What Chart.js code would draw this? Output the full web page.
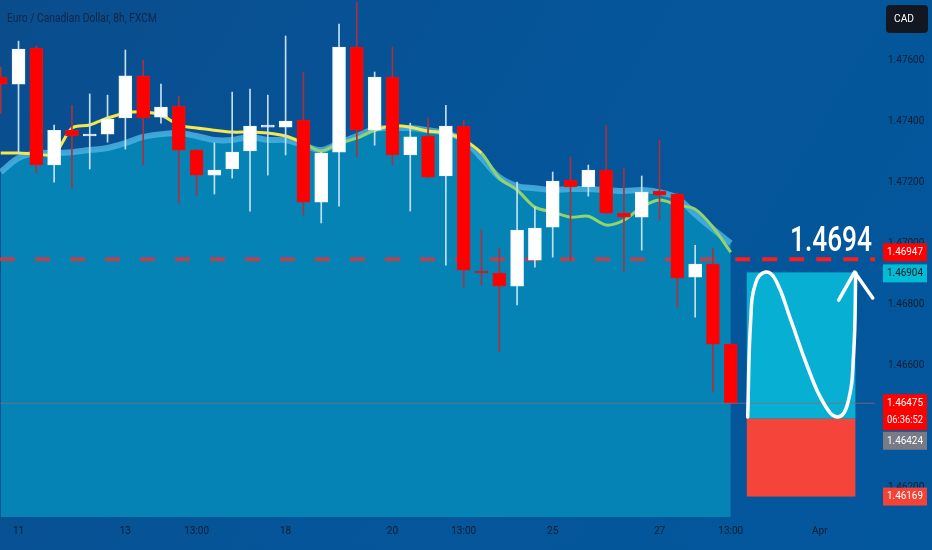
<!DOCTYPE html>
<html>
<head>
<meta charset="utf-8">
<title>Euro / Canadian Dollar, 8h, FXCM</title>
<script src="https://cdn.jsdelivr.net/npm/chart.js@4.4.1/dist/chart.umd.min.js"></script>
<style>
  html, body { margin: 0; padding: 0; background: #03569b; }
  #wrap { width: 932px; height: 550px; position: relative; }
</style>
</head>
<body>
<div id="wrap"><canvas id="chart"></canvas></div>
<script>
// EUR/CAD 8h candles
const opens  = [1.47544, 1.47521, 1.47639, 1.47256, 1.47370, 1.47351, 1.47357, 1.47410, 1.47548, 1.47413,
                1.47449, 1.47305, 1.47223, 1.47243, 1.47302, 1.47380, 1.47380, 1.47403, 1.47134, 1.47298,
                1.47643, 1.47370, 1.47544, 1.47289, 1.47351, 1.47220, 1.47384, 1.46908, 1.46902, 1.46859,
                1.46944, 1.47052, 1.47207, 1.47184, 1.47239, 1.47098, 1.47085, 1.47170, 1.47161, 1.46888,
                1.46931, 1.46669];
const highs  = [1.47577, 1.47662, 1.47646, 1.47387, 1.47452, 1.47489, 1.47485, 1.47633, 1.47600, 1.47521,
                1.47482, 1.47308, 1.47328, 1.47495, 1.47505, 1.47485, 1.47679, 1.47561, 1.47298, 1.47718,
                1.47790, 1.47561, 1.47643, 1.47393, 1.47410, 1.47452, 1.47403, 1.47043, 1.46984, 1.47200,
                1.47118, 1.47233, 1.47282, 1.47256, 1.47387, 1.47246, 1.47220, 1.47338, 1.47165, 1.46993,
                1.46984, 1.46672];
const lows   = [1.47426, 1.47295, 1.47229, 1.47200, 1.47180, 1.47243, 1.47331, 1.47308, 1.47256, 1.47393,
                1.47131, 1.47157, 1.47161, 1.47213, 1.47105, 1.47223, 1.47289, 1.47092, 1.47066, 1.47121,
                1.47282, 1.47321, 1.47256, 1.47105, 1.47213, 1.46928, 1.46856, 1.46862, 1.46643, 1.46797,
                1.46921, 1.46954, 1.46944, 1.47154, 1.47095, 1.46905, 1.46977, 1.47075, 1.46790, 1.46757,
                1.46511, 1.46475];
const closes = [1.47521, 1.47636, 1.47256, 1.47370, 1.47351, 1.47357, 1.47407, 1.47548, 1.47410, 1.47446,
                1.47305, 1.47223, 1.47239, 1.47298, 1.47384, 1.47382, 1.47400, 1.47134, 1.47295, 1.47643,
                1.47370, 1.47544, 1.47289, 1.47348, 1.47216, 1.47384, 1.46911, 1.46902, 1.46859, 1.47043,
                1.47049, 1.47203, 1.47184, 1.47239, 1.47098, 1.47085, 1.47167, 1.47157, 1.46885, 1.46931,
                1.46669, 1.46475];

// moving averages: the yellow/green line and the edge of the shaded band
const maFast = [1.47295, 1.47295, 1.47292, 1.47292, 1.47377, 1.47387, 1.47410, 1.47426, 1.47430, 1.47420,
                1.47387, 1.47377, 1.47370, 1.47364, 1.47364, 1.47361, 1.47351, 1.47328, 1.47302, 1.47328,
                1.47344, 1.47370, 1.47384, 1.47380, 1.47367, 1.47361, 1.47338, 1.47295, 1.47213, 1.47174,
                1.47118, 1.47102, 1.47085, 1.47088, 1.47059, 1.47075, 1.47118, 1.47141, 1.47125, 1.47111,
                1.47052, 1.46970];
const maSlow = [1.47233, 1.47279, 1.47295, 1.47295, 1.47298, 1.47305, 1.47312, 1.47328, 1.47348, 1.47357,
                1.47361, 1.47351, 1.47338, 1.47338, 1.47348, 1.47338, 1.47338, 1.47321, 1.47305, 1.47328,
                1.47351, 1.47374, 1.47377, 1.47377, 1.47370, 1.47361, 1.47338, 1.47279, 1.47216, 1.47187,
                1.47180, 1.47174, 1.47177, 1.47177, 1.47174, 1.47171, 1.47174, 1.47167, 1.47148, 1.47095,
                1.47046, 1.47000];

// axis labels
const tickIndex = [1, 7, 11, 16, 22, 26, 31, 37, 41, 46];
const tickText  = ['11', '13', '13:00', '18', '20', '13:00', '25', '27', '13:00', 'Apr'];
const priceTicks = [1.462, 1.464, 1.466, 1.468, 1.470, 1.472, 1.474, 1.476];

// drawings
const targetLine = 1.46947;
const targetNote = '1.4694';
const lastPrice = 1.46475;
const countdown = '06:36:52';
const posFrom = 41.9, posTo = 48.0;          // long position box (bar index)
const posEntry = 1.46424, posTarget = 1.46904, posStop = 1.46169;
const waveX = [41.95, 42.12, 42.40, 42.96, 43.52, 44.37, 45.32, 46.22, 47.00, 47.57, 47.90, 48.02];
const waveY = [1.46430, 1.46748, 1.46869, 1.46905, 1.46879, 1.46748, 1.46593, 1.46475, 1.46430, 1.46475, 1.46639, 1.46902];
const arrowX = [47.06, 47.95, 48.97];
const arrowY = [1.46813, 1.46905, 1.46820];

const xMin = -0.04, xMax = 49.1;
const yMin = 1.46102, yMax = 1.47797;

const family = 'Roboto, "DejaVu Sans", sans-serif';

const last = opens.length - 1;
const isUp = i => closes[i] >= opens[i];
const greenRuns = [[17, 20], [27, last]];
const isGreen = i => greenRuns.some(r => i >= r[0] && i < r[1] + 1);

const wickData = opens.map((o, i) => ({ x: i, y: [lows[i], highs[i]] }));
const bodyData = opens.map((o, i) => ({ x: i, y: [o, closes[i]] }));

// background, position boxes
const backdrop = {
  id: 'backdrop',
  beforeDraw(chart) {
    const ctx = chart.ctx;
    const g = ctx.createLinearGradient(0, 0, chart.width, chart.height);
    g.addColorStop(0, '#0a4d8d');
    g.addColorStop(0.5, '#05559a');
    g.addColorStop(1, '#03579c');
    ctx.save();
    ctx.fillStyle = g;
    ctx.fillRect(0, 0, chart.width, chart.height);
    ctx.restore();
  },
  beforeDatasetsDraw(chart) {
    const ctx = chart.ctx, x = chart.scales.x, y = chart.scales.y;
    const l = x.getPixelForValue(posFrom), r = x.getPixelForValue(posTo);
    const yT = y.getPixelForValue(posTarget), yE = y.getPixelForValue(posEntry), yS = y.getPixelForValue(posStop);
    ctx.save();
    ctx.fillStyle = '#07afd3';
    ctx.fillRect(l, yT, r - l, yE - yT);
    ctx.fillStyle = '#f5453a';
    ctx.fillRect(l, yE, r - l, yS - yE);
    ctx.restore();
  }
};

function squeezeText(ctx, text, x, y, width) {
  const w = ctx.measureText(text).width;
  ctx.save();
  ctx.translate(x, y);
  ctx.scale(width / w, 1);
  ctx.fillText(text, 0, 0);
  ctx.restore();
}

function priceBox(ctx, lines, cy, bg, fg) {
  const h = 18 * lines.length;
  ctx.fillStyle = bg;
  ctx.fillRect(883, cy - 9, 44, h);
  ctx.fillStyle = fg;
  ctx.font = '11px ' + family;
  ctx.textAlign = 'left';
  ctx.textBaseline = 'middle';
  lines.forEach((t, k) => squeezeText(ctx, t, 887, cy + k * 17, 36));
}

// title, currency badge, big target number, price tags
const overlay = {
  id: 'overlay',
  afterDraw(chart) {
    const ctx = chart.ctx, y = chart.scales.y;
    ctx.save();
    ctx.fillStyle = '#0f2744';
    ctx.font = '13px ' + family;
    ctx.textBaseline = 'middle';
    squeezeText(ctx, 'Euro / Canadian Dollar, 8h, FXCM', 7, 19, 150);

    ctx.fillStyle = '#131722';
    ctx.beginPath();
    ctx.roundRect(886, 5, 42, 28, 4);
    ctx.fill();
    ctx.fillStyle = '#ffffff';
    ctx.font = '11px ' + family;
    squeezeText(ctx, 'CAD', 894, 19, 20);

    ctx.fillStyle = '#ffffff';
    ctx.font = '500 35px ' + family;
    ctx.textBaseline = 'alphabetic';
    squeezeText(ctx, targetNote, 790, y.getPixelForValue(targetLine) - 8, 82);

    priceBox(ctx, [targetLine.toFixed(5)], y.getPixelForValue(targetLine) - 7, '#ff0000', '#ffffff');
    priceBox(ctx, [posTarget.toFixed(5)], y.getPixelForValue(posTarget) + 1, '#00bcd4', '#131722');
    priceBox(ctx, [lastPrice.toFixed(5), countdown], y.getPixelForValue(lastPrice), '#ff0000', '#ffffff');
    priceBox(ctx, [posEntry.toFixed(5)], y.getPixelForValue(posEntry) + 22, '#787b86', '#ffffff');
    priceBox(ctx, [posStop.toFixed(5)], y.getPixelForValue(posStop), '#f44336', '#ffffff');
    ctx.restore();
  }
};

const yellow = '#f4e84a', green = '#93d36c';

new Chart(document.getElementById('chart'), {
  type: 'bar',
  data: {
    datasets: [
      {
        type: 'line', label: 'MA slow',
        data: maSlow.map((v, i) => ({ x: i, y: v })),
        borderColor: 'rgba(74,178,224,0.85)', borderWidth: 6,
        backgroundColor: '#0683b5', fill: 'start',
        pointRadius: 0, tension: 0.35, order: 10
      },
      {
        type: 'line', label: 'MA fast',
        data: maFast.map((v, i) => ({ x: i, y: v })),
        borderColor: yellow, borderWidth: 3,
        segment: { borderColor: c => isGreen(c.p0DataIndex) ? green : yellow },
        pointRadius: 0, tension: 0.3, order: 9
      },
      {
        type: 'line', label: 'target (chart)',
        data: [{ x: xMin, y: targetLine }, { x: last, y: targetLine }],
        borderColor: 'rgba(196,62,72,0.9)', borderWidth: 4, borderDash: [15, 20],
        pointRadius: 0, order: 8
      },
      {
        type: 'bar', label: 'wicks', data: wickData,
        barThickness: 1, grouped: false,
        backgroundColor: c => isUp(c.dataIndex) ? '#c2e0f4' : '#a8323f',
        order: 7
      },
      {
        type: 'bar', label: 'bodies', data: bodyData,
        barThickness: 13, minBarLength: 2, grouped: false, borderSkipped: false,
        backgroundColor: c => isUp(c.dataIndex) ? '#ffffff' : '#ff0000',
        borderColor: c => isUp(c.dataIndex) ? '#eaf4fb' : '#d8141e',
        borderWidth: 1, order: 6
      },
      {
        type: 'line', label: 'last price',
        data: [{ x: xMin, y: lastPrice }, { x: xMax, y: lastPrice }],
        borderColor: 'rgba(140,105,120,0.75)', borderWidth: 1,
        pointRadius: 0, order: 3
      },
      {
        type: 'line', label: 'target (right)',
        data: [{ x: last + 0.25, y: targetLine }, { x: xMax, y: targetLine }],
        borderColor: '#ff1c1c', borderWidth: 4, borderDash: [15, 12],
        pointRadius: 0, order: 2
      },
      {
        type: 'line', label: 'wave',
        data: waveX.map((v, i) => ({ x: v, y: waveY[i] })),
        borderColor: '#ffffff', borderWidth: 3.5, borderCapStyle: 'round',
        pointRadius: 0, tension: 0.45, order: 1
      },
      {
        type: 'line', label: 'arrow',
        data: arrowX.map((v, i) => ({ x: v, y: arrowY[i] })),
        borderColor: '#ffffff', borderWidth: 3.5, borderCapStyle: 'round', borderJoinStyle: 'round',
        pointRadius: 0, tension: 0, order: 1
      }
    ]
  },
  options: {
    responsive: true,
    maintainAspectRatio: false,
    animation: false,
    layout: { padding: 0, autoPadding: false },
    plugins: { legend: { display: false }, tooltip: { enabled: false } },
    scales: {
      x: {
        type: 'linear', min: xMin, max: xMax, offset: false,
        grid: { display: false }, border: { display: false },
        afterBuildTicks: s => { s.ticks = tickIndex.map(v => ({ value: v })); },
        afterFit: s => { s.height = 33; s.paddingLeft = 0; s.paddingRight = 0; },
        ticks: {
          autoSkip: false, maxRotation: 0, padding: 0,
          color: '#0e1d2e', font: { family: family, size: 10 },
          callback: v => tickText[tickIndex.indexOf(v)]
        }
      },
      y: {
        position: 'right', min: yMin, max: yMax,
        grid: { display: false }, border: { display: false },
        afterBuildTicks: s => { s.ticks = priceTicks.map(v => ({ value: v })); },
        afterFit: s => { s.width = 57; s.paddingTop = 0; s.paddingBottom = 0; },
        ticks: {
          padding: 5, color: '#0e1d2e', font: { family: family, size: 10 },
          callback: v => v.toFixed(5)
        }
      }
    }
  },
  plugins: [backdrop, overlay]
});
</script>
</body>
</html>
